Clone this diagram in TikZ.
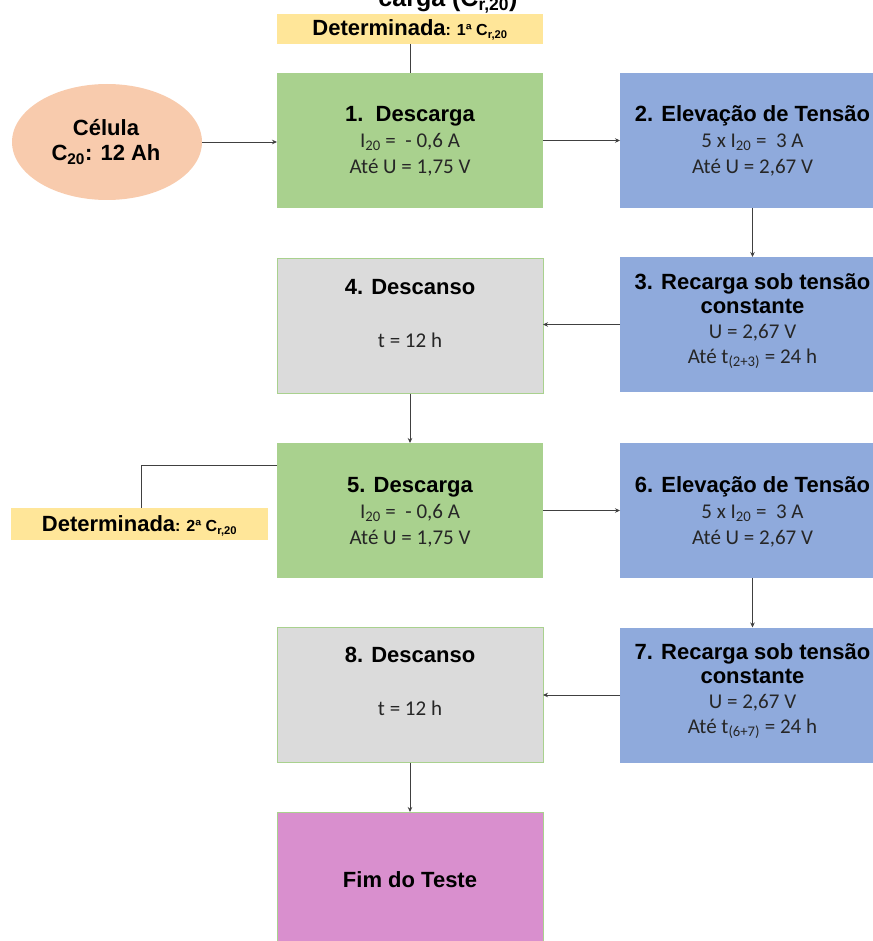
\documentclass[tikz,border=0pt]{standalone}
\usepackage{fontspec}
\setmainfont{Carlito}
\newfontfamily\hdfont{Liberation Sans}
\usetikzlibrary{shapes.geometric,arrows.meta}
\definecolor{cgreen}{HTML}{A9D18E}
\definecolor{cblue}{HTML}{8FAADC}
\definecolor{cgray}{HTML}{DBDBDB}
\definecolor{cyel}{HTML}{FFE699}
\definecolor{cpeach}{HTML}{F8CBAD}
\definecolor{cpink}{HTML}{D98FCE}
\definecolor{cline}{HTML}{404040}
\definecolor{ctext}{HTML}{262626}
\tikzset{
  box/.style={rectangle, minimum width=266pt, minimum height=135pt, inner sep=0pt, outer sep=0pt},
  gbox/.style={box, fill=cgreen},
  bbox/.style={box, fill=cblue, minimum width=265pt},
  dbox/.style={box, fill=cgray, draw=cgreen, line width=0.6pt},
  pbox/.style={box, fill=cpink, draw=cgreen, line width=0.6pt},
  ybox/.style={rectangle, fill=cyel, inner sep=0pt, outer sep=0pt},
  hd/.style={font=\hdfont\bfseries\fontsize{22pt}{26pt}\selectfont, text=black, anchor=base, inner sep=0pt},
  bd/.style={font=\fontsize{21pt}{25pt}\selectfont, text=ctext, anchor=base, inner sep=0pt},
  conn/.style={draw=cline, line width=0.8pt},
  arr/.style={conn, -{Stealth[length=5pt,width=4.5pt]}},
}
\newcommand{\smallhd}{\hdfont\bfseries\fontsize{16pt}{19pt}\selectfont}
\begin{document}
\begin{tikzpicture}[x=1pt,y=-1pt]
\useasboundingbox (0,0) rectangle (872,941);
% top title (cut)
\node[hd, font=\hdfont\bfseries\fontsize{25pt}{30pt}\selectfont] (ttl) at (448,6.7) {carga (C\textsubscript{r,20})};
% yellow 1
\node[ybox, minimum width=266pt, minimum height=30pt] (y1) at (410,29) {};
\node[hd] (y1t) at (410,36) {Determinada{\smallhd: 1ª C\textsubscript{r,20}}};
% ellipse
\node[ellipse, fill=cpeach, minimum width=190pt, minimum height=116pt, inner sep=0pt] (cel) at (107,142) {};
\node[hd] (celt1) at (106,136) {Célula};
\node[hd] (celt2) at (106,161) {C\textsubscript{20}: 12 Ah};
% boxes
\node[gbox] (g1) at (410,140.5) {};
\node[bbox] (b2) at (752.5,140.5) {};
\node[bbox] (b3) at (752.5,324.5) {};
\node[dbox] (d4) at (410,326) {};
\node[gbox] (g5) at (410,510.5) {};
\node[bbox] (b6) at (752.5,510.5) {};
\node[bbox] (b7) at (752.5,695) {};
\node[dbox] (d8) at (410,695) {};
\node[pbox] (fim) at (410,879.5) {};
% yellow 2
\node[ybox, minimum width=257pt, minimum height=32pt] (y2) at (139.5,524) {};
\node[hd] (y2t) at (139.5,531.5) {Determinada{\smallhd: 2ª C\textsubscript{r,20}}};
% texts box 1
\node[hd] (g1a) at (410,121.7) {1.\ \ Descarga};
\node[bd] (g1b) at (410,147.7) {I\textsubscript{20} = \ - 0,6 A};
\node[bd] (g1c) at (410,174) {Até U = 1,75 V};
% box 2
\node[hd] (b2a) at (752.5,121.7) {2. Elevação de Tensão};
\node[bd] (b2b) at (752.5,147.7) {5 x I\textsubscript{20} = \ 3 A};
\node[bd] (b2c) at (752.5,174) {Até U = 2,67 V};
% box 3
\node[hd] (b3a) at (752.5,289) {3. Recarga sob tensão};
\node[hd] (b3b) at (752.5,313.3) {constante};
\node[bd] (b3c) at (752.5,338.3) {U = 2,67 V};
\node[bd] (b3d) at (752.5,363.3) {Até t\textsubscript{(2+3)} = 24 h};
% box 4
\node[hd] (d4a) at (410,294) {4. Descanso};
\node[bd] (d4b) at (410,347) {t = 12 h};
% box 5
\node[hd] (g5a) at (410,492) {5. Descarga};
\node[bd] (g5b) at (410,518) {I\textsubscript{20} = \ - 0,6 A};
\node[bd] (g5c) at (410,544) {Até U = 1,75 V};
% box 6
\node[hd] (b6a) at (752.5,492) {6. Elevação de Tensão};
\node[bd] (b6b) at (752.5,518) {5 x I\textsubscript{20} = \ 3 A};
\node[bd] (b6c) at (752.5,544) {Até U = 2,67 V};
% box 7
\node[hd] (b7a) at (752.5,659) {7. Recarga sob tensão};
\node[hd] (b7b) at (752.5,683.3) {constante};
\node[bd] (b7c) at (752.5,708.3) {U = 2,67 V};
\node[bd] (b7d) at (752.5,733.3) {Até t\textsubscript{(6+7)} = 24 h};
% box 8
\node[hd] (d8a) at (410,662) {8. Descanso};
\node[bd] (d8b) at (410,715) {t = 12 h};
% fim
\node[hd] (fimt) at (410,887) {Fim do Teste};
% connectors
\draw[conn] (y1.south) -- (g1.north);
\draw[arr] (cel.east) -- (cel.east -| g1.west);
\draw[arr] (g1.east) -- (b2.west);
\draw[arr] (b2.south) -- (b3.north);
\draw[arr] (b3.west) -- (b3.west -| d4.east);
\draw[arr] (d4.south) -- (g5.north);
\draw[conn] ([yshift=-22pt]g5.north west) -| ([xshift=2pt]y2.north);
\draw[arr] (g5.east) -- (b6.west);
\draw[arr] (b6.south) -- (b7.north);
\draw[arr] (b7.west) -- (d8.east);
\draw[arr] (d8.south) -- (fim.north);
\end{tikzpicture}
\end{document}
